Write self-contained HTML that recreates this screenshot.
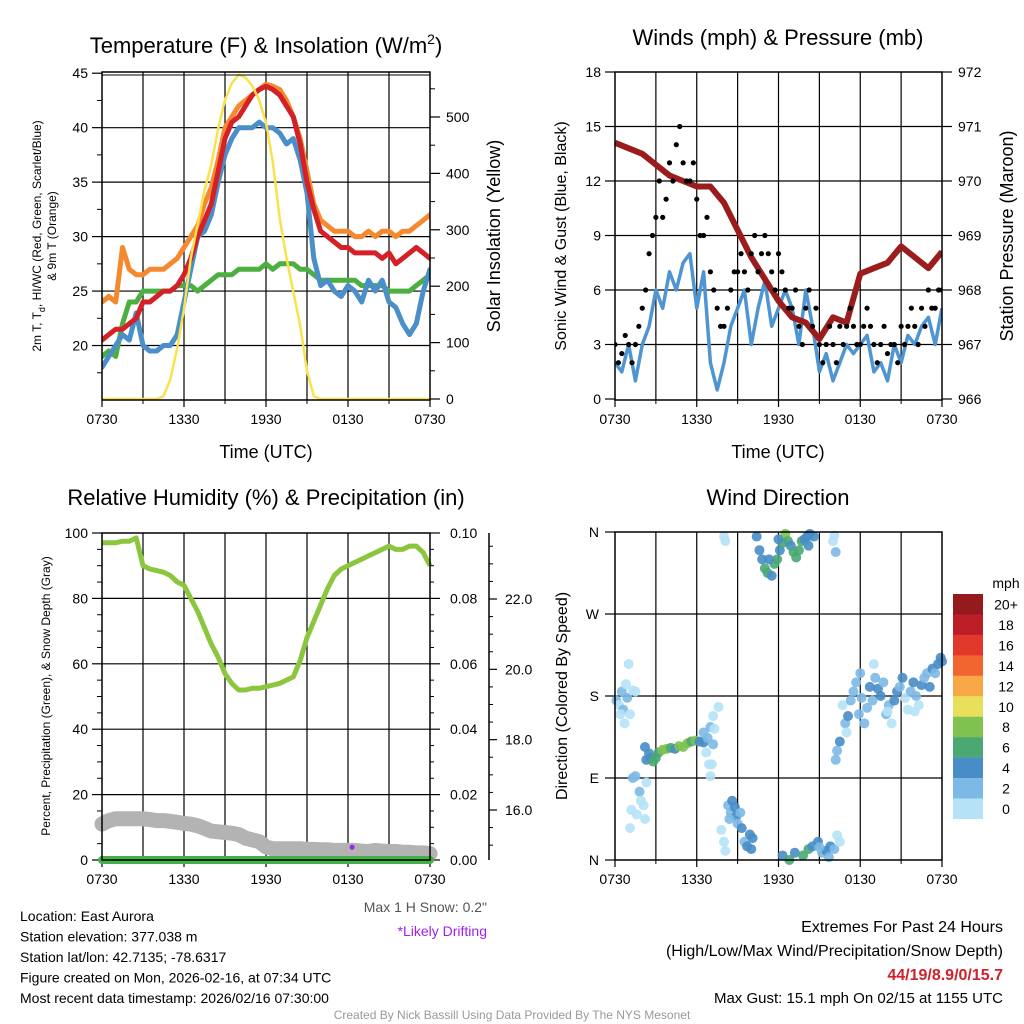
<!DOCTYPE html>
<html><head><meta charset="utf-8"><style>
html,body{margin:0;padding:0;background:#fff;}
svg{display:block;font-family:"Liberation Sans",sans-serif;}
</style></head><body>
<svg id="root" width="1024" height="1024" viewBox="0 0 1024 1024">
<rect width="1024" height="1024" fill="#fff"/>
</svg>
<script>
// ---------- DATA ----------
const tickHours = [0,6,12,18,24];
const tickLabels = ["0730","1330","1930","0130","0730"];
const halfHours = Array.from({length:49},(_,i)=>i*0.5);
const hours = Array.from({length:25},(_,i)=>i);

const tempRed = [20.5,21,21.5,21.5,22,22.5,24,24,24.5,25,25,25.5,26.5,28,30,31.5,33,36,39,40.5,41,42,43,43.5,43.8,43.5,43,42,41,38.5,35,32.5,30.5,30,29.5,29,29,28.5,28.5,28.5,28.5,28,28.5,27.5,28,28.5,29,28.5,28];
const tempOrange = [24,24.5,24,29,27,26.5,26.5,27,27,27,27.5,28,29,30,31,33,34.5,37,40,41,42,42.5,43,43.5,44,43.8,43.5,42.5,41,39,36,33,31.5,31,30.5,30.5,30.5,30,30,30.5,30,30.5,30.5,30,30.5,30.5,31,31.5,32];
const tempBlue = [18,19,20,21,20.5,23,20,19.5,19.5,20,20,21,24,27,30,30.5,32,35,37.5,39,40,40,40,40.5,40,40,39.5,38.5,39,37,34,28,25.5,26,25,24.5,25.5,25,24,26,25,26,24,23.5,22,21,22,25,27];
const tempGreen = [19,19.5,19,22,24,24,25,25,25,25,25,25.5,25.5,25.5,25,25.5,26,26.5,26.5,26.5,27,27,27,27,27.5,27,27.5,27.5,27.5,27,27,26.5,26,26,26,26,26,26,25.5,25.5,25.5,25.5,25,25,25,25,25.5,26,26.5];
const insolation = [0,0,0,0,0,0,0,0,0,5,35,90,160,250,310,370,415,480,530,560,575,570,555,530,490,420,320,250,190,130,50,5,0,0,0,0,0,0,0,0,0,0,0,0,0,0,0,0,0];

const windSpeed = [2,1.5,3,1,3,4,6,5,7,6,7.5,8,5,7,2,0.5,2,4,5,6,3,5,6.5,4,5,6,5,3,6,4,1.5,2.5,1,2,3,2.5,3,3.5,1.5,2,1,3,2,3.5,3,4,4.5,3,5];
const gustsA = [3,2.5,3,3,5,8,10,10,13,14,13,12,11,9,7,5,4,6,7,7,8,7,9,7,8,6,5,4,5,4,3,3,3,4,4,4,3,5,3,3,2.5,3,4,4,4,5,6,5,6];
const gustsB = [2,3.5,2,4,6,9,12,11,12,15,12,13,9,10,6,4,5,7,8,6,9,8,8,6,7,5,6,3,6,5,2,4,2,3,5,3,4,4,2,4,3,2,3,5,3,4,5,6,5];
const pressure = [970.7,970.6,970.5,970.3,970.1,970.0,969.9,969.9,969.6,969.1,968.6,968.2,967.8,967.5,967.4,967.1,967.5,967.4,968.3,968.4,968.5,968.8,968.6,968.4,968.7];

const relHum = [97,97,97,97.5,97.5,98.5,90,89,88.5,88,87,85,84,80,76,71,66,62,57,54,52,52,52.5,52.5,53,53.5,54,55,56,61,68,73,78,83,87,89,90,91,92,93,94,95,96,95,95,96,96,94,90];
const snowDepth = [15.6,15.7,15.75,15.75,15.75,15.75,15.75,15.73,15.7,15.7,15.68,15.65,15.62,15.6,15.55,15.48,15.4,15.38,15.36,15.34,15.3,15.2,15.15,15.1,14.95,14.9,14.9,14.9,14.9,14.9,14.88,14.88,14.87,14.87,14.85,14.85,14.85,14.85,14.83,14.82,14.85,14.83,14.82,14.82,14.8,14.8,14.78,14.78,14.76];
const precip = [0,0,0,0,0,0,0,0,0,0,0,0,0,0,0,0,0,0,0,0,0,0,0,0,0];
const driftT = [18.3];
const driftDepth = [14.94];

const dirT = [0.1,0.3,0.5,0.6,0.8,0.9,1.1,1.3,1.5,0.4,1.0,0.7,
1.3,1.5,1.8,1.9,1.6,1.2,2.2,1.1,2.1,2.3,
2.3,2.5,2.6,2.8,3.0,3.2,3.5,3.8,4.1,4.4,4.7,5.0,5.3,5.6,5.9,6.2,6.5,2.2,
6.5,6.8,7.0,7.2,6.7,6.9,7.1,7.3,7.6,7.2,7.0,
8.0,8.1,
7.8,8.3,8.5,8.8,8.9,9.0,9.2,9.3,9.5,9.7,9.9,10.0,8.0,8.1,8.6,8.4,10.1,
10.4,10.6,10.8,11.0,11.2,11.5,11.7,11.9,12.1,12.3,12.5,12.7,12.9,13.1,13.3,13.5,13.7,13.9,14.1,14.3,14.6,14.2,11.3,12.0,
16.1,16.2,16.0,
12.3,12.8,13.2,13.8,14.2,14.5,14.9,15.2,15.5,15.7,15.8,16.1,16.3,16.5,15.0,
16.2,16.3,16.5,16.7,16.9,17.1,17.3,17.5,17.7,17.9,18.1,18.3,18.5,18.7,18.9,19.1,19.3,19.5,19.7,19.9,20.1,20.3,20.5,20.7,20.9,21.1,21.3,21.5,21.7,21.9,22.1,22.3,22.5,22.7,22.9,23.1,23.3,23.5,23.7,23.9,24.0,19.0,18.0,17.0,22.0,20.0];
const dirDeg = [175,170,185,165,193,178,160,186,185,160,215,150,
90,92,75,65,50,55,45,35,60,85,
110,117,112,108,112,118,121,122,123,122,125,124,128,130,131,130,129,124,
140,134,146,127,118,105,105,144,168,158,92,
355,350,
33,60,52,58,48,40,52,35,20,15,28,12,20,10,65,45,24,
355,340,330,320,315,312,325,330,340,348,358,350,345,338,332,340,350,352,355,358,355,345,330,352,
356,338,350,
5,0,8,5,12,15,20,8,10,3,15,12,27,20,14,
110,120,130,170,150,158,175,185,195,160,178,150,167,190,175,200,188,180,195,160,170,150,175,185,190,200,178,165,185,195,180,170,192,200,205,190,210,205,215,222,218,215,205,140,163,163];
const dirSpd = [2,1,3,2,1,2,1,0,0,0,0,0,
2,2,2,1,0,0,0,0,1,0,
4,4,4,6,6,6,8,8,6,4,8,8,8,6,8,4,4,4,
2,2,2,2,0,0,0,0,0,0,0,
0,0,
0,2,3,4,4,2,3,4,2,4,4,4,0,0,4,2,4,
4,4,4,6,6,4,6,6,4,6,8,6,4,6,6,6,6,4,4,4,4,4,4,4,
0,2,0,
4,6,4,6,6,4,4,2,4,2,4,2,0,0,2,
2,2,4,0,2,4,2,2,2,2,2,2,2,4,2,2,4,4,2,2,2,0,4,4,2,4,0,0,2,4,2,0,4,2,2,4,4,2,4,4,4,0,2,0,0,0];

const cbLabels = ["20+","18","16","14","12","10","8","6","4","2","0"];
const cbColors = ["#951a1d","#bd1d25","#e0382a","#f26430","#f8a847","#e8e05a","#80c250","#4aa873","#488dc6","#7db9e5","#b5e2f7"];

// ---------- HELPERS ----------
const NS="http://www.w3.org/2000/svg";
const root=document.getElementById('root');
function el(tag,attrs,parent,text){const e=document.createElementNS(NS,tag);for(const k in attrs)e.setAttribute(k,attrs[k]);if(text!==undefined)e.textContent=text;(parent||root).appendChild(e);return e;}
function lin(d0,d1,r0,r1){return v=>r0+(v-d0)/(d1-d0)*(r1-r0);}
function poly(xs,ys,fx,fy){return xs.map((x,i)=>fx(x).toFixed(1)+','+fy(ys[i]).toFixed(1)).join(' ');}
function txt(x,y,s,size,anchor,parent,extra){const t=el('text',Object.assign({x:x,y:y,'font-size':size,'text-anchor':anchor||'middle',fill:'#000'},extra||{}),parent,s);return t;}

function frame(g,x0,x1,y0,y1){
  for(let h=3;h<24;h+=3){const x=x0+h/24*(x1-x0);el('line',{x1:x,x2:x,y1:y0,y2:y1,stroke:'#000','stroke-width':1.2},g);}
  const fx=lin(0,24,x0,x1);
  tickHours.forEach((h,i)=>{el('line',{x1:fx(h),x2:fx(h),y1:y1,y2:y1+7,stroke:'#000','stroke-width':1.2},g);
    const t=txt(fx(h),y1+24,tickLabels[i],14,'middle',g);
    
    });
  for(let h=3;h<24;h+=6){el('line',{x1:fx(h),x2:fx(h),y1:y1,y2:y1+4,stroke:'#000','stroke-width':1},g);}
}
function box(g,x0,x1,y0,y1){el('rect',{x:x0,y:y0,width:x1-x0,height:y1-y0,fill:'none',stroke:'#000','stroke-width':1.5},g);}
function grp(name){const g=el('g',{});return g;}

// ---------- PANEL 1 ----------
(function(){
const g=grp('temperature-panel');
const x0=102,x1=430,y0=72,y1=400;
const fx=lin(0,24,x0,x1), fy=lin(15,45,400,73.2), fi=lin(0,500,399,117);
frame(g,x0,x1,y0,y1);
[20,25,30,35,40,45].forEach(v=>{if(v<45)el('line',{x1:x0,x2:x1,y1:fy(v),y2:fy(v),stroke:'#000','stroke-width':1.2},g);
  el('line',{x1:x0-10,x2:x0,y1:fy(v),y2:fy(v),stroke:'#000','stroke-width':1.2},g);
  const t=txt(x0-14,fy(v)+5,String(v),14,'end',g);});
[17.5,22.5,27.5,32.5,37.5,42.5].forEach(v=>el('line',{x1:x0-5,x2:x0,y1:fy(v),y2:fy(v),stroke:'#000'},g));
[0,100,200,300,400,500].forEach(v=>{el('line',{x1:x1,x2:x1+10,y1:fi(v),y2:fi(v),stroke:'#000','stroke-width':1.2},g);
  const t=txt(x1+16,fi(v)+5,String(v),14,'start',g);});
[50,150,250,350,450,550].forEach(v=>el('line',{x1:x1,x2:x1+5,y1:fi(v),y2:fi(v),stroke:'#000'},g));
const cl=el('clipPath',{id:'c1'},g);el('rect',{x:x0,y:y0-2,width:x1-x0,height:y1-y0+2},cl);
const s=el('g',{'clip-path':'url(#c1)'},g);
const series=[[tempOrange,'#f5892e','orange-9m-temp-line',5],[tempGreen,'#4caf3f','green-dewpoint-line',5],[tempBlue,'#4a8fc9','blue-windchill-line',5],[tempRed,'#d42027','red-2m-temp-line',5]];
series.forEach(([d,c,n,w])=>{const p=el('polyline',{points:poly(halfHours,d,fx,fy),fill:'none',stroke:c,'stroke-width':w,'stroke-linejoin':'round','stroke-linecap':'round'},s);});
const py=el('polyline',{points:poly(halfHours,insolation,fx,fi),fill:'none',stroke:'#f9e24c','stroke-width':2.5,'stroke-linejoin':'round'},s);

box(g,x0,x1,y0,y1);
el('line',{x1:x0,x2:x1,y1:75,y2:75,stroke:'#000','stroke-width':1},g);
let t=el('text',{x:266,y:53,'font-size':22,'text-anchor':'middle'},g);

t.innerHTML='Temperature (F) &amp; Insolation (W/m<tspan dy="-9" font-size="14">2</tspan><tspan dy="9">)</tspan>';
t=el('text',{transform:'translate(41,236) rotate(-90)','font-size':12,'text-anchor':'middle'},g);
t.innerHTML='2m T, T<tspan dy="4" font-size="9">d</tspan><tspan dy="-4">, HI/WC (Red, Green, Scarlet/Blue)</tspan>';

t=txt(0,0,'& 9m T (Orange)',12,'middle',g,{transform:'translate(56,236) rotate(-90)'});

t=txt(0,0,'Solar Insolation (Yellow)',18,'middle',g,{transform:'translate(500,236) rotate(-90)'});

t=txt(266,458,'Time (UTC)',18,'middle',g);
})();

// ---------- PANEL 2 ----------
(function(){
const g=grp('winds-panel');
const x0=615,x1=942,y0=72,y1=400;
const fx=lin(0,24,x0,x1), fy=lin(0,18,399,72), fp=lin(966,972,399,72);
frame(g,x0,x1,y0,y1);
[0,3,6,9,12,15,18].forEach(v=>{if(v>0&&v<18)el('line',{x1:x0,x2:x1,y1:fy(v),y2:fy(v),stroke:'#000','stroke-width':1.2},g);
  el('line',{x1:x0-10,x2:x0,y1:fy(v),y2:fy(v),stroke:'#000','stroke-width':1.2},g);
  const t=txt(x0-14,fy(v)+5,String(v),14,'end',g);});
[966,967,968,969,970,971,972].forEach(v=>{el('line',{x1:x1,x2:x1+10,y1:fp(v),y2:fp(v),stroke:'#000','stroke-width':1.2},g);
  const t=txt(x1+16,fp(v)+5,String(v),14,'start',g);});
const cl=el('clipPath',{id:'c2'},g);el('rect',{x:x0,y:y0,width:x1-x0,height:y1-y0},cl);
const s=el('g',{'clip-path':'url(#c2)'},g);
let p=el('polyline',{points:poly(halfHours,windSpeed,fx,fy),fill:'none',stroke:'#4f95d2','stroke-width':3.5,'stroke-linejoin':'round'},s);

p=el('polyline',{points:poly(hours,pressure,fx,fp),fill:'none',stroke:'#9b1c1c','stroke-width':6,'stroke-linejoin':'round'},s);

halfHours.forEach((h,i)=>{const c=el('circle',{cx:fx(h),cy:fy(gustsA[i]),r:2.6,fill:'#000'},s);
  
  if(h<24){const c2=el('circle',{cx:fx(h+0.25),cy:fy(gustsB[i]),r:2.6,fill:'#000'},s);
  }});
box(g,x0,x1,y0,y1);
let t=txt(778,45,'Winds (mph) & Pressure (mb)',22,'middle',g);
t=txt(0,0,'Sonic Wind & Gust (Blue, Black)',16,'middle',g,{transform:'translate(566,236) rotate(-90)'});
t=txt(0,0,'Station Pressure (Maroon)',18,'middle',g,{transform:'translate(1013,236) rotate(-90)'});
t=txt(778,458,'Time (UTC)',18,'middle',g);
})();

// ---------- PANEL 3 ----------
(function(){
const g=grp('humidity-panel');
const x0=102,x1=430,y0=533,y1=860;
const fx=lin(0,24,x0,x1), fy=lin(0,100,860,533), fs=lin(16,22,810,599), fpr=lin(0,0.1,860,533);
frame(g,x0,x1,y0,y1);
[0,20,40,60,80,100].forEach(v=>{if(v>0&&v<100)el('line',{x1:x0,x2:x1,y1:fy(v),y2:fy(v),stroke:'#000','stroke-width':1.2},g);
  el('line',{x1:x0-10,x2:x0,y1:fy(v),y2:fy(v),stroke:'#000','stroke-width':1.2},g);
  const t=txt(x0-14,fy(v)+5,String(v),14,'end',g);});
for(let v=5;v<100;v+=5){if(v%20)el('line',{x1:x0-5,x2:x0,y1:fy(v),y2:fy(v),stroke:'#000'},g);}
[0,0.02,0.04,0.06,0.08,0.1].forEach(v=>{el('line',{x1:x1,x2:x1+10,y1:fpr(v),y2:fpr(v),stroke:'#000','stroke-width':1.2},g);
  const t=txt(x1+20,fpr(v)+5,v.toFixed(2),14,'start',g);});
for(let v=0.005;v<0.1;v+=0.005){if(Math.round(v*1000)%20)el('line',{x1:x1,x2:x1+4,y1:fpr(v),y2:fpr(v),stroke:'#000'},g);}
el('line',{x1:489,x2:489,y1:533,y2:860,stroke:'#000','stroke-width':1.5},g);
[16,18,20,22].forEach(v=>{el('line',{x1:489,x2:497,y1:fs(v),y2:fs(v),stroke:'#000','stroke-width':1.2},g);
  const t=txt(505,fs(v)+5,v.toFixed(1),14,'start',g);});
for(let v=15;v<24;v+=0.5){if(v%2)el('line',{x1:489,x2:493,y1:fs(v),y2:fs(v),stroke:'#000'},g);}
const cl=el('clipPath',{id:'c3'},g);el('rect',{x:x0-8,y:y0,width:x1-x0+16,height:y1-y0+12},cl);
const s=el('g',{'clip-path':'url(#c3)'},g);
let p=el('polyline',{points:poly(halfHours,snowDepth,fx,fs),fill:'none',stroke:'#b3b3b3','stroke-width':15,'stroke-linejoin':'round','stroke-linecap':'round'},s);

p=el('polyline',{points:poly(hours,precip,fx,fpr),fill:'none',stroke:'#45b045','stroke-width':8,'stroke-linecap':'round'},s);

p=el('polyline',{points:poly(halfHours,relHum,fx,fy),fill:'none',stroke:'#8cc63f','stroke-width':5,'stroke-linejoin':'round'},s);

driftT.forEach((h,i)=>{const c=el('circle',{cx:fx(h),cy:fs(driftDepth[i]),r:2.5,fill:'#a020f0'},s);});
box(g,x0,x1,y0,y1);
let t=txt(266,505,'Relative Humidity (%) & Precipitation (in)',22,'middle',g);
t=txt(0,0,'Percent, Precipitation (Green), & Snow Depth (Gray)',12,'middle',g,{transform:'translate(50,696) rotate(-90)'});
t=txt(487,912,'Max 1 H Snow: 0.2"',14,'end',g,{fill:'#555'});
t=txt(487,936,'*Likely Drifting',14,'end',g,{fill:'#a020f0'});
})();

// ---------- PANEL 4 ----------
(function(){
const g=grp('wind-direction-panel');
const x0=615,x1=942,y0=532,y1=860;
const fx=lin(0,24,x0,x1), fy=lin(0,360,860,532);
frame(g,x0,x1,y0,y1);
['N','E','S','W','N'].forEach((l,i)=>{const v=i*90;if(v>0&&v<360)el('line',{x1:x0,x2:x1,y1:fy(v),y2:fy(v),stroke:'#000','stroke-width':1.2},g);
  el('line',{x1:x0-10,x2:x0,y1:fy(v),y2:fy(v),stroke:'#000','stroke-width':1.2},g);
  const t=txt(x0-16,fy(v)+5,l,14,'end',g);});
const s=el('g',{},g);
dirT.forEach((h,i)=>{const idx=10-Math.min(10,Math.floor(dirSpd[i]/2));
  const c=el('circle',{cx:fx(h),cy:fy(dirDeg[i]),r:5,fill:cbColors[idx],'fill-opacity':0.9},s);
  });
box(g,x0,x1,y0,y1);
let t=txt(778,505,'Wind Direction',22,'middle',g);
t=txt(0,0,'Direction (Colored By Speed)',16,'middle',g,{transform:'translate(567,696) rotate(-90)'});
const cb=grp('speed-colorbar');
t=txt(1006,588,'mph',14,'middle',cb);
cbLabels.forEach((l,i)=>{const y=594+i*20.45;
  const r=el('rect',{x:953,y:y,width:30,height:20.6,fill:cbColors[i]},cb);
  const tt=txt(1006,y+15.5,l,14,'middle',cb);});
})();

// ---------- FOOTER ----------
(function(){
const g=grp('footer-info');
const lines=['Location: East Aurora','Station elevation: 377.038 m','Station lat/lon: 42.7135; -78.6317','Figure created on Mon, 2026-02-16, at 07:34 UTC','Most recent data timestamp: 2026/02/16 07:30:00'];
lines.forEach((l,i)=>{const t=txt(20,921+i*20.5,l,14,'start',g);});
let t=txt(1003,932,'Extremes For Past 24 Hours',16,'end',g);
t=txt(1003,956,'(High/Low/Max Wind/Precipitation/Snow Depth)',16,'end',g);
t=txt(1003,980,'44/19/8.9/0/15.7',16,'end',g,{fill:'#d0202a','font-weight':'bold'});
t=txt(1003,1003,'Max Gust: 15.1 mph On 02/15 at 1155 UTC',15,'end',g);
t=txt(512,1019,'Created By Nick Bassill Using Data Provided By The NYS Mesonet',12,'middle',g,{fill:'#999'});
})();
</script>
</body></html>
